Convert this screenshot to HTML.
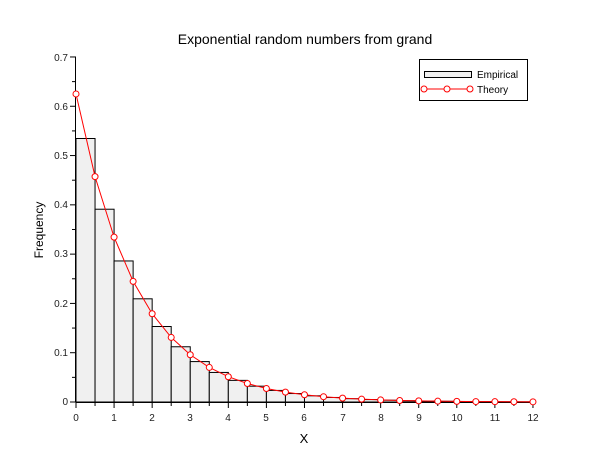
<!DOCTYPE html>
<html><head><style>body{margin:0;background:#fff}svg{display:block;font-family:"Liberation Sans",sans-serif}</style></head>
<body>
<svg id="s" width="610" height="460" xmlns="http://www.w3.org/2000/svg">
<rect width="610" height="460" fill="#fff"/>
<text x="305" y="44" font-size="14" text-anchor="middle" fill="#000">Exponential random numbers from grand</text>
<g id="bars"></g>
<g id="axes" stroke="#000" stroke-width="1"></g>
<g font-size="10" fill="#222" text-anchor="end">
<text x="68" y="405">0</text><text x="68" y="356">0.1</text><text x="68" y="307">0.2</text><text x="68" y="257">0.3</text><text x="68" y="208">0.4</text><text x="68" y="159">0.5</text><text x="68" y="110">0.6</text><text x="68" y="61">0.7</text>
</g>
<g font-size="10" fill="#222" text-anchor="middle">
<text x="76" y="421">0</text><text x="114" y="421">1</text><text x="152" y="421">2</text><text x="190" y="421">3</text><text x="228" y="421">4</text><text x="266" y="421">5</text><text x="304" y="421">6</text><text x="343" y="421">7</text><text x="381" y="421">8</text><text x="419" y="421">9</text><text x="457" y="421">10</text><text x="495" y="421">11</text><text x="533" y="421">12</text>
</g>
<text x="304" y="443" font-size="13" text-anchor="middle">X</text>
<text transform="translate(43,230) rotate(-90)" font-size="12" text-anchor="middle">Frequency</text>
<g id="theory"></g>
<rect x="419.5" y="59.5" width="108" height="41" fill="#fff" stroke="#000"/>
<rect x="424.5" y="71.5" width="47" height="6" fill="#f0f0f0" stroke="#000"/>
<text x="477" y="78" font-size="10">Empirical</text>
<line x1="424" y1="89" x2="471" y2="89" stroke="#f00"/>
<circle cx="424" cy="89" r="3" fill="#fff" stroke="#f00"/><circle cx="447" cy="89" r="3" fill="#fff" stroke="#f00"/><circle cx="470" cy="89" r="3" fill="#fff" stroke="#f00"/>
<text x="477" y="93" font-size="10">Theory</text>
</svg>
<script>
var X=function(v){return 76+v*38.08},Y=function(v){return 402-v*492.9};
var f=function(x){return 0.625*Math.exp(-x/1.6)};
var ns="http://www.w3.org/2000/svg",b="",t="";
for(var i=0;i<24;i++){var x=i*0.5,h=f(x+0.25);b+='<rect x="'+X(x)+'" y="'+Y(h)+'" width="19.04" height="'+(402-Y(h))+'" fill="#f0f0f0" stroke="#000"/>';}
document.getElementById("bars").innerHTML=b;
var a='<line x1="76" y1="402.5" x2="533" y2="402.5"/><line x1="75.5" y1="57" x2="75.5" y2="402"/>';
for(var i=0;i<=24;i++){var x=X(i*0.5);a+='<line x1="'+x+'" y1="402" x2="'+x+'" y2="'+(i%2?406:408)+'"/>';}
for(var i=0;i<=14;i++){var y=Y(i*0.05);a+='<line x1="'+(i%2?72:70)+'" y1="'+y+'" x2="76" y2="'+y+'"/>';}
document.getElementById("axes").innerHTML=a;
var p="",c="";for(var i=0;i<=24;i++){var x=X(i*0.5),y=Y(f(i*0.5));p+=(i?"L":"M")+x+","+y;c+='<circle cx="'+x+'" cy="'+y+'" r="3" fill="#fff" stroke="#f00"/>';}
document.getElementById("theory").innerHTML='<path d="'+p+'" fill="none" stroke="#f00"/>'+c;
</script>
</body></html>
